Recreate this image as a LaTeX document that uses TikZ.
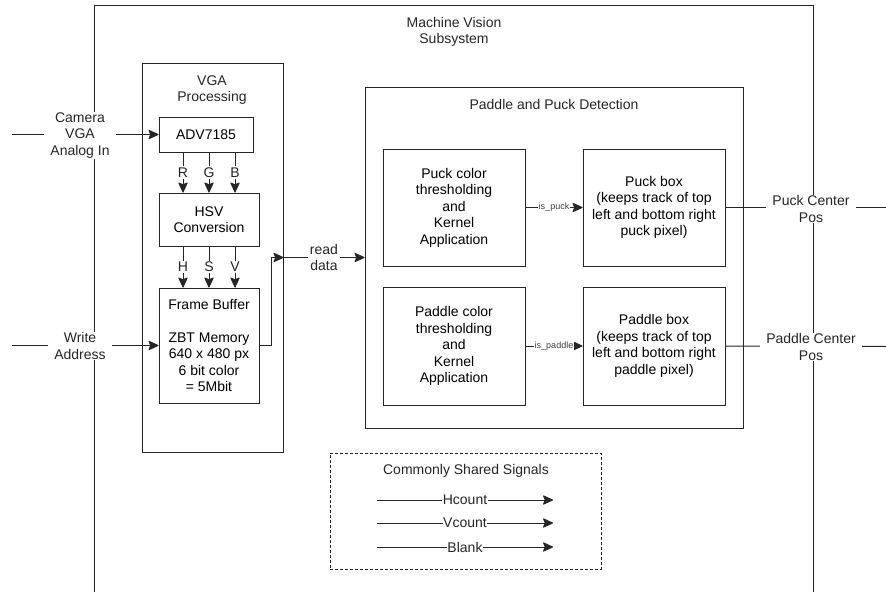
\documentclass[tikz,border=0pt]{standalone}
\usepackage{fontspec}
\setmainfont{Liberation Sans}
\usetikzlibrary{arrows.meta,calc}
\newcommand\myfs{\fontsize{14}{16.5}\selectfont}
\newcommand\mysmall{\fontsize{9}{10}\selectfont}
\begin{document}
\begin{tikzpicture}[x=1pt,y=-1pt,
  ln/.style={line width=1pt, draw=black!85},
  box/.style={ln, draw, inner sep=0pt, align=center, font=\myfs},
  arr/.style={ln, -{Stealth[length=11pt,width=10pt,inset=2pt,round]}},
  lbl/.style={fill=white, inner xsep=4pt, inner ysep=1pt, align=center, font=\myfs, text=black!85},
  tiny/.style={fill=white, inner xsep=1pt, inner ysep=0.5pt, font=\mysmall, text=black!75},
  ttl/.style={align=center, font=\myfs, text=black!85}]
\useasboundingbox (0,0) rectangle (886,592);
\fill[white] (0,0) rectangle (886,592);
% outer subsystem frame
\draw[ln] (94,592) -- (94,5) -- (813,5) -- (813,592);
\node[ttl] (mvs) at (454,32) {Machine Vision\\Subsystem};
% VGA processing
\node[box, minimum width=141pt, minimum height=389pt] (vga) at (212.5,257.5) {};
\node[ttl] (vgat) at (212,90) {VGA\\Processing};
\node[box, minimum width=94pt, minimum height=35pt] (adv) at (206,134.5) {ADV7185};
\node[box, minimum width=100pt, minimum height=53pt] (hsv) at (209,219.5) {HSV\\Conversion};
\node[box, minimum width=100pt, minimum height=115pt] (fb) at (209,345.5) {Frame Buffer\\[16.5pt]ZBT Memory\\640 x 480 px\\6 bit color\\= 5Mbit};
% Paddle and puck detection
\node[box, minimum width=378pt, minimum height=341pt] (ppd) at (554,257.5) {};
\node[ttl] (ppdt) at (554,104) {Paddle and Puck Detection};
\node[box, minimum width=142pt, minimum height=117pt] (puckc) at (454,207.5) {Puck color\\thresholding\\and\\Kernel\\Application};
\node[box, minimum width=142pt, minimum height=117pt] (puckb) at (654,207.5) {Puck box\\(keeps track of top\\left and bottom right\\puck pixel)};
\node[box, minimum width=142pt, minimum height=118pt] (padc) at (454,346) {Paddle color\\thresholding\\and\\Kernel\\Application};
\node[box, minimum width=142pt, minimum height=118pt] (padb) at (654,346) {Paddle box\\(keeps track of top\\left and bottom right\\paddle pixel)};
% Commonly shared signals
\node[box, dash pattern=on 3pt off 2pt, minimum width=271pt, minimum height=116pt] (css) at (465.5,511) {};
\node[ttl] (csst) at (466,471) {Commonly Shared Signals};
% RGB arrows
\foreach \dx/\t in {-26/R,0/G,26/B}{
  \coordinate (top\t) at ($(hsv.north)+(\dx,0)$);
  \draw[arr] (adv.south -| top\t) -- node[lbl, inner xsep=1pt, inner ysep=1.5pt] {\t} (top\t);
}
\foreach \dx/\t in {-26/H,0/S,26/V}{
  \coordinate (top\t) at ($(fb.north)+(\dx,0)$);
  \draw[arr] (hsv.south -| top\t) -- node[lbl, inner xsep=1pt, inner ysep=1.5pt] {\t} (top\t);
}
% inputs
\coordinate (camin) at (12,134.5);
\coordinate (wrin) at (12,345.5);
\draw[arr] (camin) -- (adv.west);
\draw[arr] (wrin) -- (fb.west);
\node[lbl, inner xsep=6pt] (caml) at (80,135.5) {Camera\\VGA\\Analog In};
\node[lbl, inner xsep=6pt] (wrl) at (80,346) {Write\\Address};
% frame buffer output / read data
\draw[arr] (fb.east) -- ++(12,0) |- (vga.east);
\draw[arr] (vga.east) -- node[lbl, inner xsep=2pt] (rdl) {read\\data} (ppd.west);
% internal detection arrows
\draw[arr] (puckc.east) -- node[tiny] {is\_puck} (puckb.west);
\draw[arr] (padc.east) -- node[tiny] {is\_paddle} (padb.west);
% outputs
\coordinate (puckout) at (886,207.5);
\coordinate (padout) at (886,346.5);
\draw[ln] (puckb.east) -- (puckout);
\draw[ln] (padb.east) -- (padout);
\node[lbl, inner xsep=6pt] (puckl) at (811,209) {Puck Center\\Pos};
\node[lbl, inner xsep=6pt] (padl) at (811,347) {Paddle Center\\Pos};
% shared signals
\foreach \yy/\t/\n in {500/Hcount/h,523/Vcount/v,547/Blank/b}{
  \coordinate (s\n) at (377,\yy);
  \coordinate (e\n) at (553,\yy);
  \draw[arr] (s\n) -- node[lbl, inner xsep=0.5pt, inner ysep=0pt] {\t} (e\n);
}
\end{tikzpicture}
\end{document}
